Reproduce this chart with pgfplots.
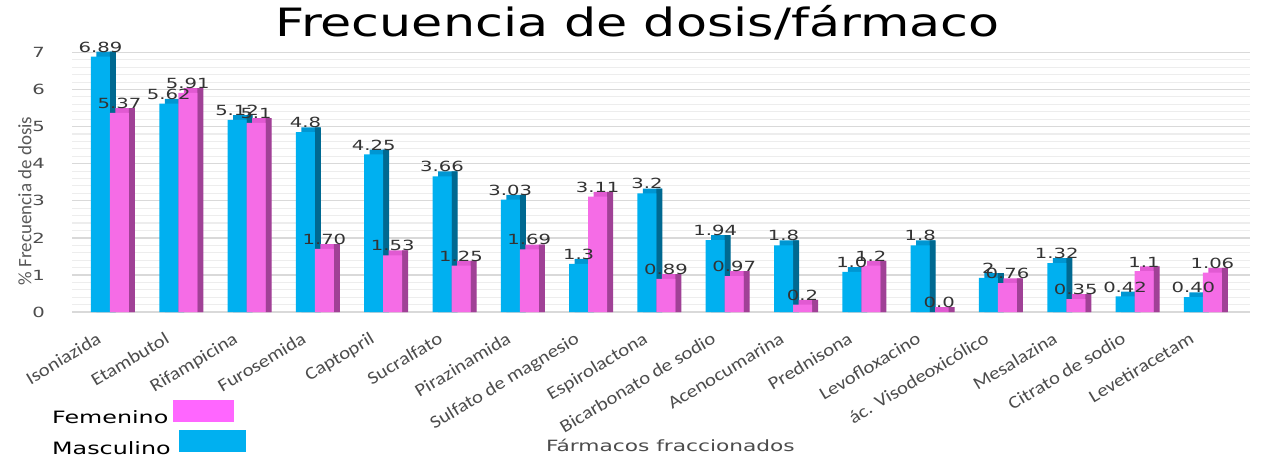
\documentclass[border=0pt]{standalone}
\usepackage{pgfplots}
\pgfplotsset{compat=1.18}
\usepackage{pgfplotstable}
\usepackage{fontspec}
\setmainfont[FakeStretch=1.4]{DejaVu Sans}
\newfontfamily\vfont[FakeStretch=1.4]{DejaVu Sans}
\newfontfamily\tfont[FakeStretch=1.3]{DejaVu Sans}
\newfontfamily\calfont[FakeStretch=1.15]{Carlito}
\newfontfamily\calplain{Carlito}
\definecolor{masc}{RGB}{0,176,240}
\definecolor{masctop}{RGB}{0,150,210}
\definecolor{mascd}{RGB}{0,105,145}
\definecolor{fem}{RGB}{245,108,230}
\definecolor{femtop}{RGB}{225,90,210}
\definecolor{femd}{RGB}{160,65,150}
\definecolor{legfem}{RGB}{255,102,255}
\definecolor{legmasc}{RGB}{0,176,240}

\pgfplotstableread{
x m mlab f flab
0 6.89 6.89 5.37 5.37
1 5.62 5.62 5.91 5.91
2 5.18 5.12 5.10 5.1
3 4.85 4.8 1.70 1.70
4 4.25 4.25 1.53 1.53
5 3.66 3.66 1.25 1.25
6 3.03 3.03 1.69 1.69
7 1.30 1.3 3.11 3.11
8 3.20 3.2 0.89 0.89
9 1.94 1.94 0.97 0.97
10 1.80 1.8 0.20 0.2
11 1.08 1.0 1.25 1.2
12 1.80 1.8 0.00 0.0
13 0.92 2 0.78 0.76
14 1.32 1.32 0.35 0.35
15 0.42 0.42 1.10 1.1
16 0.40 0.40 1.06 1.06
}\datatab

\begin{document}
\begin{tikzpicture}
\useasboundingbox (0,0) rectangle (1279pt,458pt);
\begin{axis}[
  at={(72pt,146pt)}, anchor=south west,
  scale only axis, width=1178pt, height=267pt,
  xmin=-0.556, xmax=16.69, ymin=0, ymax=7.2,
  ybar, bar width=19pt,
  axis line style={draw=none},
  major tick length=0pt, minor tick length=0pt,
  ytick={0,1,...,7}, minor y tick num=4,
  ymajorgrids, yminorgrids,
  major grid style={draw=black!15, line width=1.4pt},
  minor grid style={draw=black!7, line width=1.1pt},
  xtick={0,...,16},
  xticklabels={Isoniazida,Etambutol,Rifampicina,Furosemida,Captopril,Sucralfato,Pirazinamida,Sulfato de magnesio,Espirolactona,Bicarbonato de sodio,Acenocumarina,Prednisona,Levofloxacino,ác. Visodeoxicólico,Mesalazina,Citrato de sodio,Levetiracetam},
  xticklabel style={font=\calfont\fontsize{18}{18}\selectfont, text=black!70, rotate=31, anchor=north east, inner sep=0pt, yshift=-9pt, xshift=-22pt},
  yticklabel style={font=\vfont\fontsize{14}{14}\selectfont, text=black!70, inner sep=0pt, xshift=-27pt},
  /pgf/number format/assume math mode=true,
  ylabel={\% Frecuencia de dosis},
  ylabel style={font=\calplain\fontsize{19}{19}\selectfont, text=black!65, at={(axis description cs:-0.04,0.416)}, anchor=center},
  xlabel={Fármacos fraccionados},
  xlabel style={font=\vfont\fontsize{15.5}{15.5}\selectfont, text=black!70, at={(axis description cs:0.508,-0.498)}, anchor=center},
  title={Frecuencia de dosis/fármaco},
  title style={font=\tfont\fontsize{39}{39}\selectfont, text=black, at={(axis description cs:0.48,1.03)}, anchor=base, yshift=0pt},
  every axis title shift=0pt,
  legend plot pos=right,
  legend cell align=left,
  legend style={draw=none, fill=none, inner sep=0pt, row sep=3pt,
    font=\vfont\fontsize{17}{17}\selectfont,
    at={(axis description cs:-0.0187,-0.328)}, anchor=north west},
  nodes near coords style={font=\vfont\fontsize{14}{14}\selectfont, text=black!80, anchor=south, inner sep=1pt, yshift=3pt},
]
% Masculino
\addplot[fill=masctop, draw=none, bar shift=-4pt, forget plot] table[x=x, y expr=\thisrow{m}+0.13] {\datatab};
\addplot[fill=mascd, draw=none, bar width=6pt, bar shift=3pt, forget plot] table[x=x, y expr=\thisrow{m}+0.13] {\datatab};
\addplot[fill=masc, draw=none, bar shift=-9.5pt, forget plot, point meta=explicit symbolic, nodes near coords] table[x=x, y=m, meta=mlab] {\datatab};
% Femenino
\addplot[fill=femtop, draw=none, bar shift=15pt, forget plot] table[x=x, y expr=\thisrow{f}+0.13] {\datatab};
\addplot[fill=femd, draw=none, bar width=6pt, bar shift=22pt, forget plot] table[x=x, y expr=\thisrow{f}+0.13] {\datatab};
\addplot[fill=fem, draw=none, bar shift=9.5pt, forget plot, point meta=explicit symbolic, nodes near coords] table[x=x, y=f, meta=flab] {\datatab};
\addlegendimage{legend image code/.code={\fill[legfem] (0pt,-3pt) rectangle (60pt,18pt);}}
\addlegendentry{Femenino}
\addlegendimage{legend image code/.code={\fill[legmasc] (6pt,-3pt) rectangle (72pt,18pt);}}
\addlegendentry{Masculino}
\end{axis}
\end{tikzpicture}
\end{document}
